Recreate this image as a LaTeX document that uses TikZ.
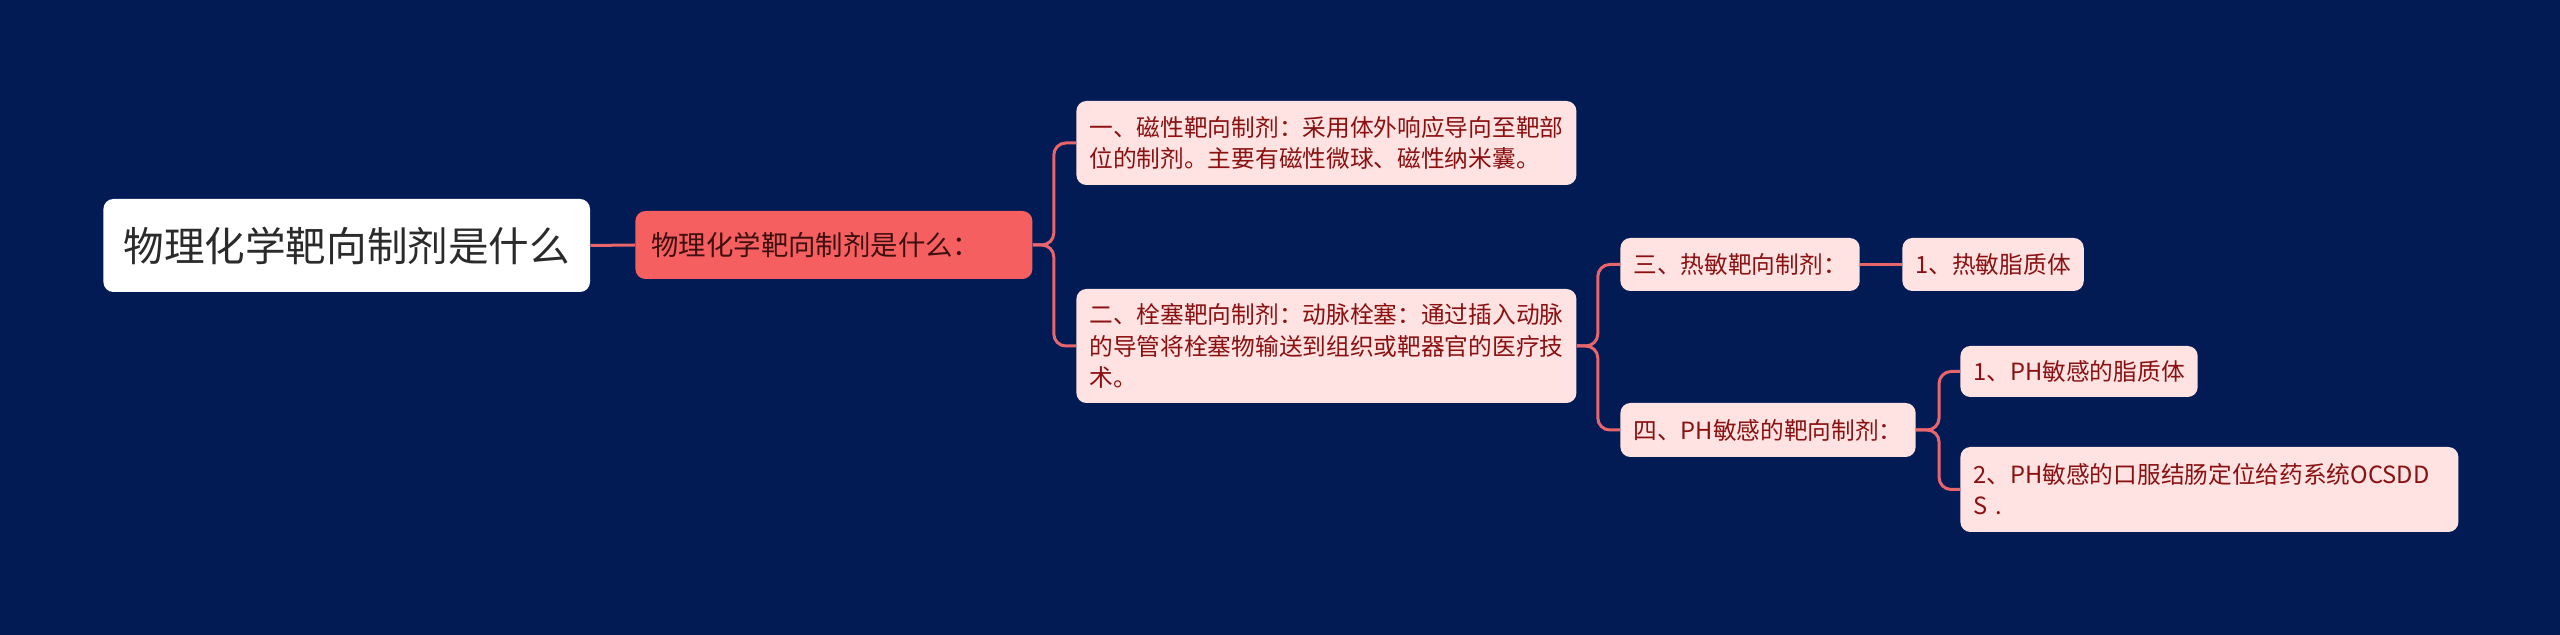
\documentclass[tikz,border=0pt]{standalone}
\usepackage{fontspec}
\setmainfont{Noto Sans CJK SC}
\definecolor{sfondo}{HTML}{021B55}
\definecolor{linea}{HTML}{E8666B}
\definecolor{rosso}{HTML}{F65F5F}
\definecolor{rosa}{HTML}{FFE2E2}
\definecolor{testoradice}{HTML}{2B2B2B}
\definecolor{testolivello}{HTML}{3D0F0F}
\definecolor{testofoglia}{HTML}{8A1111}
\begin{document}
\begin{tikzpicture}[x=0.5pt, y=-0.5pt,
    radice/.style={fill=white, rounded corners=5pt, text=testoradice, font=\fontsize{20.3}{24}\selectfont, inner xsep=10pt, minimum height=46.5pt, anchor=west},
    livello/.style={fill=rosso, rounded corners=5pt, text=testolivello, font=\fontsize{13.7}{16}\selectfont, inner xsep=8pt, minimum height=34pt, text width=182.5pt, align=left, anchor=west},
    foglia/.style={fill=rosa, rounded corners=5pt, text=testofoglia, font=\fontsize{11.85}{15.6}\selectfont, inner xsep=6.5pt, inner ysep=3pt, align=left, anchor=west},
    ramo/.style={draw=linea, line width=1.5pt, rounded corners=6pt}]
    % Sfondo
    \fill[sfondo] (0,0) rectangle (2560,635);

    % Nodi
    \node[radice] (radice) at (103,245.5) {物理化学靶向制剂是什么};
    \node[livello] (domanda) at (635,245) {物理化学靶向制剂是什么：};
    \node[foglia, minimum height=42pt, text width=237pt] (magnetico) at (1076,143)
        {一、磁性靶向制剂：采用体外响应导向至靶部\\位的制剂。主要有磁性微球、磁性纳米囊。};
    \node[foglia, minimum height=57pt, text width=237pt] (embolia) at (1076,346)
        {二、栓塞靶向制剂：动脉栓塞：通过插入动脉\\的导管将栓塞物输送到组织或靶器官的医疗技\\术。};
    \node[foglia, minimum height=26.5pt] (termico) at (1620,264.5) {三、热敏靶向制剂：};
    \node[foglia, minimum height=26.5pt] (liposoma) at (1902,264.5) {1、热敏脂质体};
    \node[foglia, minimum height=27pt] (ph) at (1620,430) {四、PH敏感的靶向制剂：};
    \node[foglia, minimum height=25.5pt] (phlipo) at (1960,371.5) {1、PH敏感的脂质体};
    \node[foglia, minimum height=42.5pt, text width=236pt] (ocsdds) at (1960,489.5)
        {2、PH敏感的口服结肠定位给药系统OCSDD\\S .};

    % Rami
    \draw[ramo] (radice.east) -- (domanda.west);
    \draw[ramo] (domanda.east) -- ++(21,0) |- (magnetico.west);
    \draw[ramo] (domanda.east) -- ++(21,0) |- (embolia.west);
    \draw[ramo] (embolia.east) -- ++(21,0) |- (termico.west);
    \draw[ramo] (embolia.east) -- ++(21,0) |- (ph.west);
    \draw[ramo] (termico.east) -- (liposoma.west);
    \draw[ramo] (ph.east) -- ++(23,0) |- (phlipo.west);
    \draw[ramo] (ph.east) -- ++(23,0) |- (ocsdds.west);
\end{tikzpicture}
\end{document}
